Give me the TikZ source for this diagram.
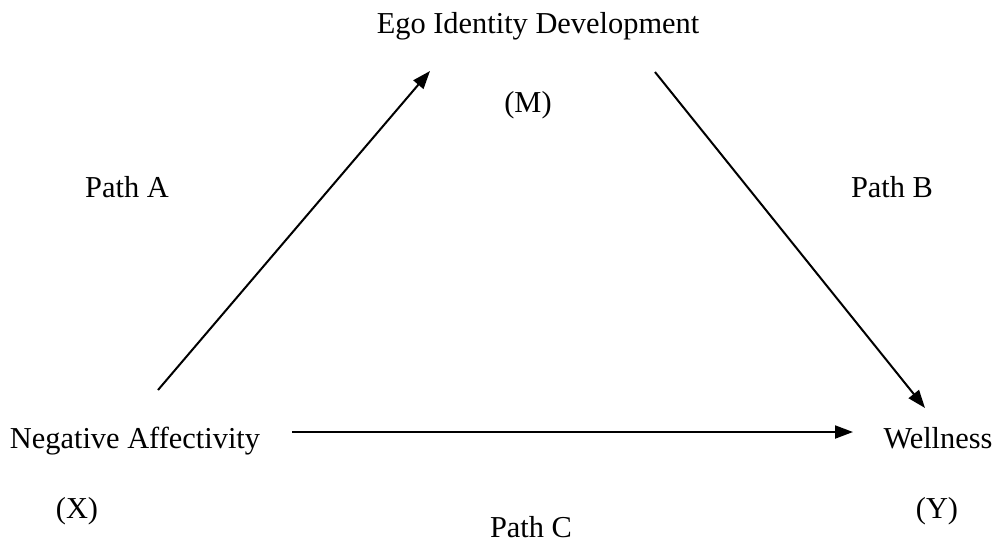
\documentclass[tikz,border=0pt]{standalone}
\usepackage{fontspec}
\setmainfont{Liberation Serif}
\usetikzlibrary{arrows.meta}
\tikzset{v/.style={font=\fontsize{30.4}{30}\selectfont, anchor=base, inner sep=0pt}}
\tikzset{p/.style={-{Triangle[length=18pt,width=13pt]}, line width=2pt}}

\begin{document}
\begin{tikzpicture}[x=1pt,y=-1pt]
        \useasboundingbox (0,0) rectangle (995,542);
        % variables
        \node [v] (ego) at (538,33) {Ego Identity Development};
        \node [v] (egoM) at (528,112) {(M)};
        \node [v] (neg) at (135,448) {Negative Affectivity};
        \node [v] (negX) at (77,518) {(X)};
        \node [v] (wel) at (938,448) {Wellness};
        \node [v] (welY) at (937,518) {(Y)};
        % paths
        \node [v] (pA) at (127,197) {Path A};
        \node [v] (pB) at (892,197) {Path B};
        \node [v] (pC) at (531,537) {Path C};
        \coordinate (negA) at (158,390);
        \coordinate (egoA) at (430,71);
        \coordinate (egoB) at (655,72);
        \coordinate (welB) at (925,408);
        \coordinate (negC) at (292,432);
        \coordinate (welC) at (853,432);
        \draw [p] (negA) -- (egoA);
        \draw [p] (egoB) -- (welB);
        \draw [p] (negC) -- (welC);
\end{tikzpicture}
\end{document}
